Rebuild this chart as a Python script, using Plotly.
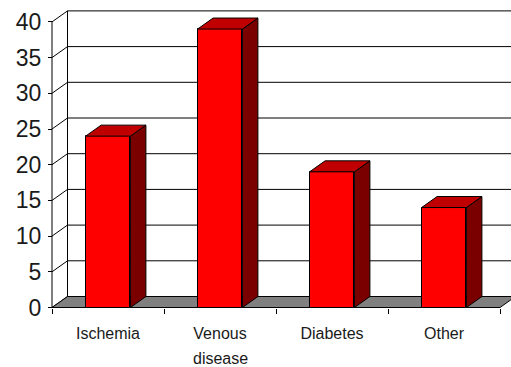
import plotly.graph_objects as go

# ---- data ----
categories = ["Ischemia", "Venous disease", "Diabetes", "Other"]
values = [24, 39, 19, 14]
y_ticks = [0, 5, 10, 15, 20, 25, 30, 35, 40]

# ---- layout constants (pixels) ----
W, H = 511, 367
PX0, PY0 = 52, 307.5      # front origin of the 3D box
SX = 112                  # px per category
SY = 7.14                 # px per value unit
DXP, DYP = 15.5, 11.0     # depth offset
L, T, B = 50, 10, 310     # plot area edges

DX = DXP / SX
DY = DYP / SY
BW = 0.40                 # bar width (category units)
n = len(categories)
centers = [i + 0.5 for i in range(n)]
ymax = max(y_ticks)

xr = [-(PX0 - L) / SX, (W - PX0) / SX]
yr = [-(B - PY0) / SY, (PY0 - T) / SY]

RED, TOP, SIDE = "#FF0000", "#C00000", "#7A0000"
FONT = "Liberation Sans, Arial, sans-serif"

fig = go.Figure()

# front faces of the columns
fig.add_trace(go.Bar(
    x=centers, y=values, width=BW,
    marker=dict(color=RED, line=dict(color="black", width=1)),
    hoverinfo="skip", showlegend=False,
))

# side and top faces
sx, sy, tx, ty = [], [], [], []
for c, v in zip(centers, values):
    x0, x1 = c - BW / 2, c + BW / 2
    sx += [x1, x1 + DX, x1 + DX, x1, x1, None]
    sy += [0, DY, v + DY, v, 0, None]
    tx += [x0, x1, x1 + DX, x0 + DX, x0, None]
    ty += [v, v, v + DY, v + DY, v, None]
fig.add_trace(go.Scatter(x=sx, y=sy, mode="lines", fill="toself", fillcolor=SIDE,
                         line=dict(color="black", width=1), hoverinfo="skip", showlegend=False))
fig.add_trace(go.Scatter(x=tx, y=ty, mode="lines", fill="toself", fillcolor=TOP,
                         line=dict(color="black", width=1), hoverinfo="skip", showlegend=False))

# walls, floor, gridlines (behind the bars)
shapes = []
for v in y_ticks:
    shapes.append(dict(type="line", xref="x", yref="y", x0=DX, x1=n + DX, y0=v + DY, y1=v + DY,
                       line=dict(color="black", width=1), layer="below"))
    shapes.append(dict(type="line", xref="x", yref="y", x0=0, x1=DX, y0=v, y1=v + DY,
                       line=dict(color="black", width=1), layer="below"))
shapes.append(dict(type="line", xref="x", yref="y", x0=DX, x1=DX, y0=DY, y1=ymax + DY,
                   line=dict(color="black", width=1), layer="below"))
shapes.append(dict(type="path", xref="x", yref="y",
                   path=f"M 0 0 L {n} 0 L {n + DX} {DY} L {DX} {DY} Z",
                   fillcolor="#808080", line=dict(color="black", width=1), layer="below"))
shapes.append(dict(type="line", xref="x", yref="y", x0=0, x1=0, y0=0, y1=ymax,
                   line=dict(color="black", width=1), layer="below"))

# two-line category labels: first line on the axis, second line as annotation
line1 = [c.split(" ")[0] for c in categories]
line2 = [" ".join(c.split(" ")[1:]) for c in categories]
annotations = []
for c, t in zip(centers, line2):
    if t:
        annotations.append(dict(x=c, y=0, xref="x", yref="y", text=t, showarrow=False,
                                yanchor="top", yshift=-40,
                                font=dict(family=FONT, size=16, color="#1a1a1a")))

fig.update_layout(
    width=W, height=H,
    margin=dict(l=L, r=0, t=T, b=H - B, pad=0),
    paper_bgcolor="white", plot_bgcolor="white",
    showlegend=False, bargap=0,
    shapes=shapes, annotations=annotations,
    xaxis=dict(range=xr, tickmode="array", tickvals=centers, ticktext=line1,
               ticks="", showgrid=False, zeroline=False, showline=False,
               anchor="free", position=(B - PY0) / (B - T),
               tickfont=dict(family=FONT, size=16, color="#1a1a1a"),
               ticklabelstandoff=14,
               minor=dict(tickmode="array", tickvals=list(range(n + 1)), ticks="outside",
                          ticklen=5, tickcolor="black", tickwidth=1, showgrid=False)),
    yaxis=dict(range=yr, tickmode="array", tickvals=y_ticks,
               ticks="outside", ticklen=4, tickcolor="black", tickwidth=1,
               showgrid=False, zeroline=False, showline=False,
               anchor="free", position=(PX0 - L) / (W - L),
               tickfont=dict(family=FONT, size=23, color="#1a1a1a"),
               ticklabelstandoff=2),
)

fig.write_html("out.html")
